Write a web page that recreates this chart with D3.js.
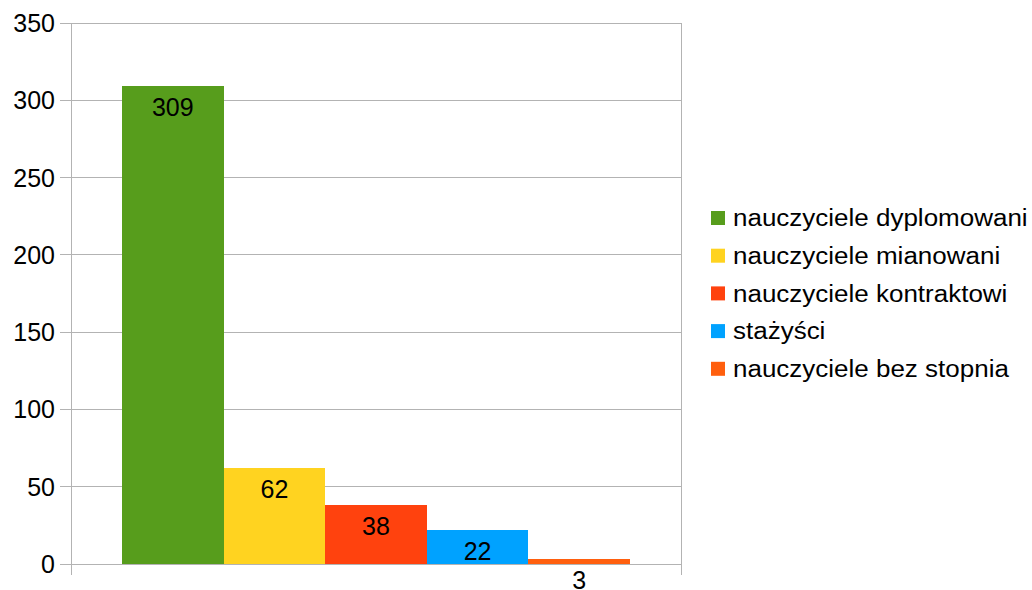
<!DOCTYPE html>
<html><head><meta charset="utf-8">
<script src="https://cdn.jsdelivr.net/npm/d3@7"></script>
<style>body{margin:0;background:#fff}svg{display:block}text{font-family:"Liberation Sans",Arial,sans-serif;fill:#000}</style>
</head><body>
<svg id="c" width="1032" height="590"></svg>
<script>
const categories = ["nauczyciele dyplomowani","nauczyciele mianowani","nauczyciele kontraktowi","stażyści","nauczyciele bez stopnia"];
const values = [309, 62, 38, 22, 3];
const colors = ["#579d1c","#ffd320","#ff420e","#00a2ff","#ff5f0e"];
const yTicks = [0,50,100,150,200,250,300,350];

const svg = d3.select("#c");
const L = 71, R = 681, T = 23, B = 564;
const y = d3.scaleLinear().domain([0,350]).range([B,T]);
const x = d3.scaleBand().domain(categories).range([L+51, R-51]).padding(0);

// grid
svg.append("g").selectAll("line").data(yTicks).join("line")
  .attr("x1", L-11).attr("x2", R).attr("y1", d=>y(d)).attr("y2", d=>y(d))
  .attr("stroke","#b3b3b3").attr("stroke-width",1).attr("shape-rendering","crispEdges");
// left and right vertical lines
svg.append("g").selectAll("line").data([L,R]).join("line")
  .attr("x1", d=>d).attr("x2", d=>d).attr("y1", T).attr("y2", B+11)
  .attr("stroke","#b3b3b3").attr("shape-rendering","crispEdges");
// y labels
svg.append("g").selectAll("text").data(yTicks).join("text")
  .attr("x", 55).attr("y", d=>y(d)).attr("dy","0.36em").attr("text-anchor","end")
  .style("font-size","25px").text(d=>d);
// bars
svg.append("g").selectAll("rect").data(values).join("rect")
  .attr("x",(d,i)=>x(categories[i])).attr("width",x.bandwidth())
  .attr("y",d=>y(d)).attr("height",d=>B-y(d)).attr("fill",(d,i)=>colors[i])
  .attr("shape-rendering","crispEdges");
// value labels
svg.append("g").selectAll("text").data(values).join("text")
  .attr("x",(d,i)=>x(categories[i])+x.bandwidth()/2)
  .attr("y",d=>y(d)+21).attr("dy","0.36em").attr("text-anchor","middle")
  .style("font-size","25px").text(d=>d);
// legend
const lg = svg.append("g").selectAll("g").data(categories).join("g")
  .attr("transform",(d,i)=>`translate(711,${218+i*37.7})`);
lg.append("rect").attr("x",0).attr("y",-7).attr("width",14).attr("height",14).attr("fill",(d,i)=>colors[i]);
lg.append("text").attr("transform","translate(22,0) scale(1.13,1)").attr("dy","0.36em").style("font-size","23px").text(d=>d);
</script>
</body></html>
